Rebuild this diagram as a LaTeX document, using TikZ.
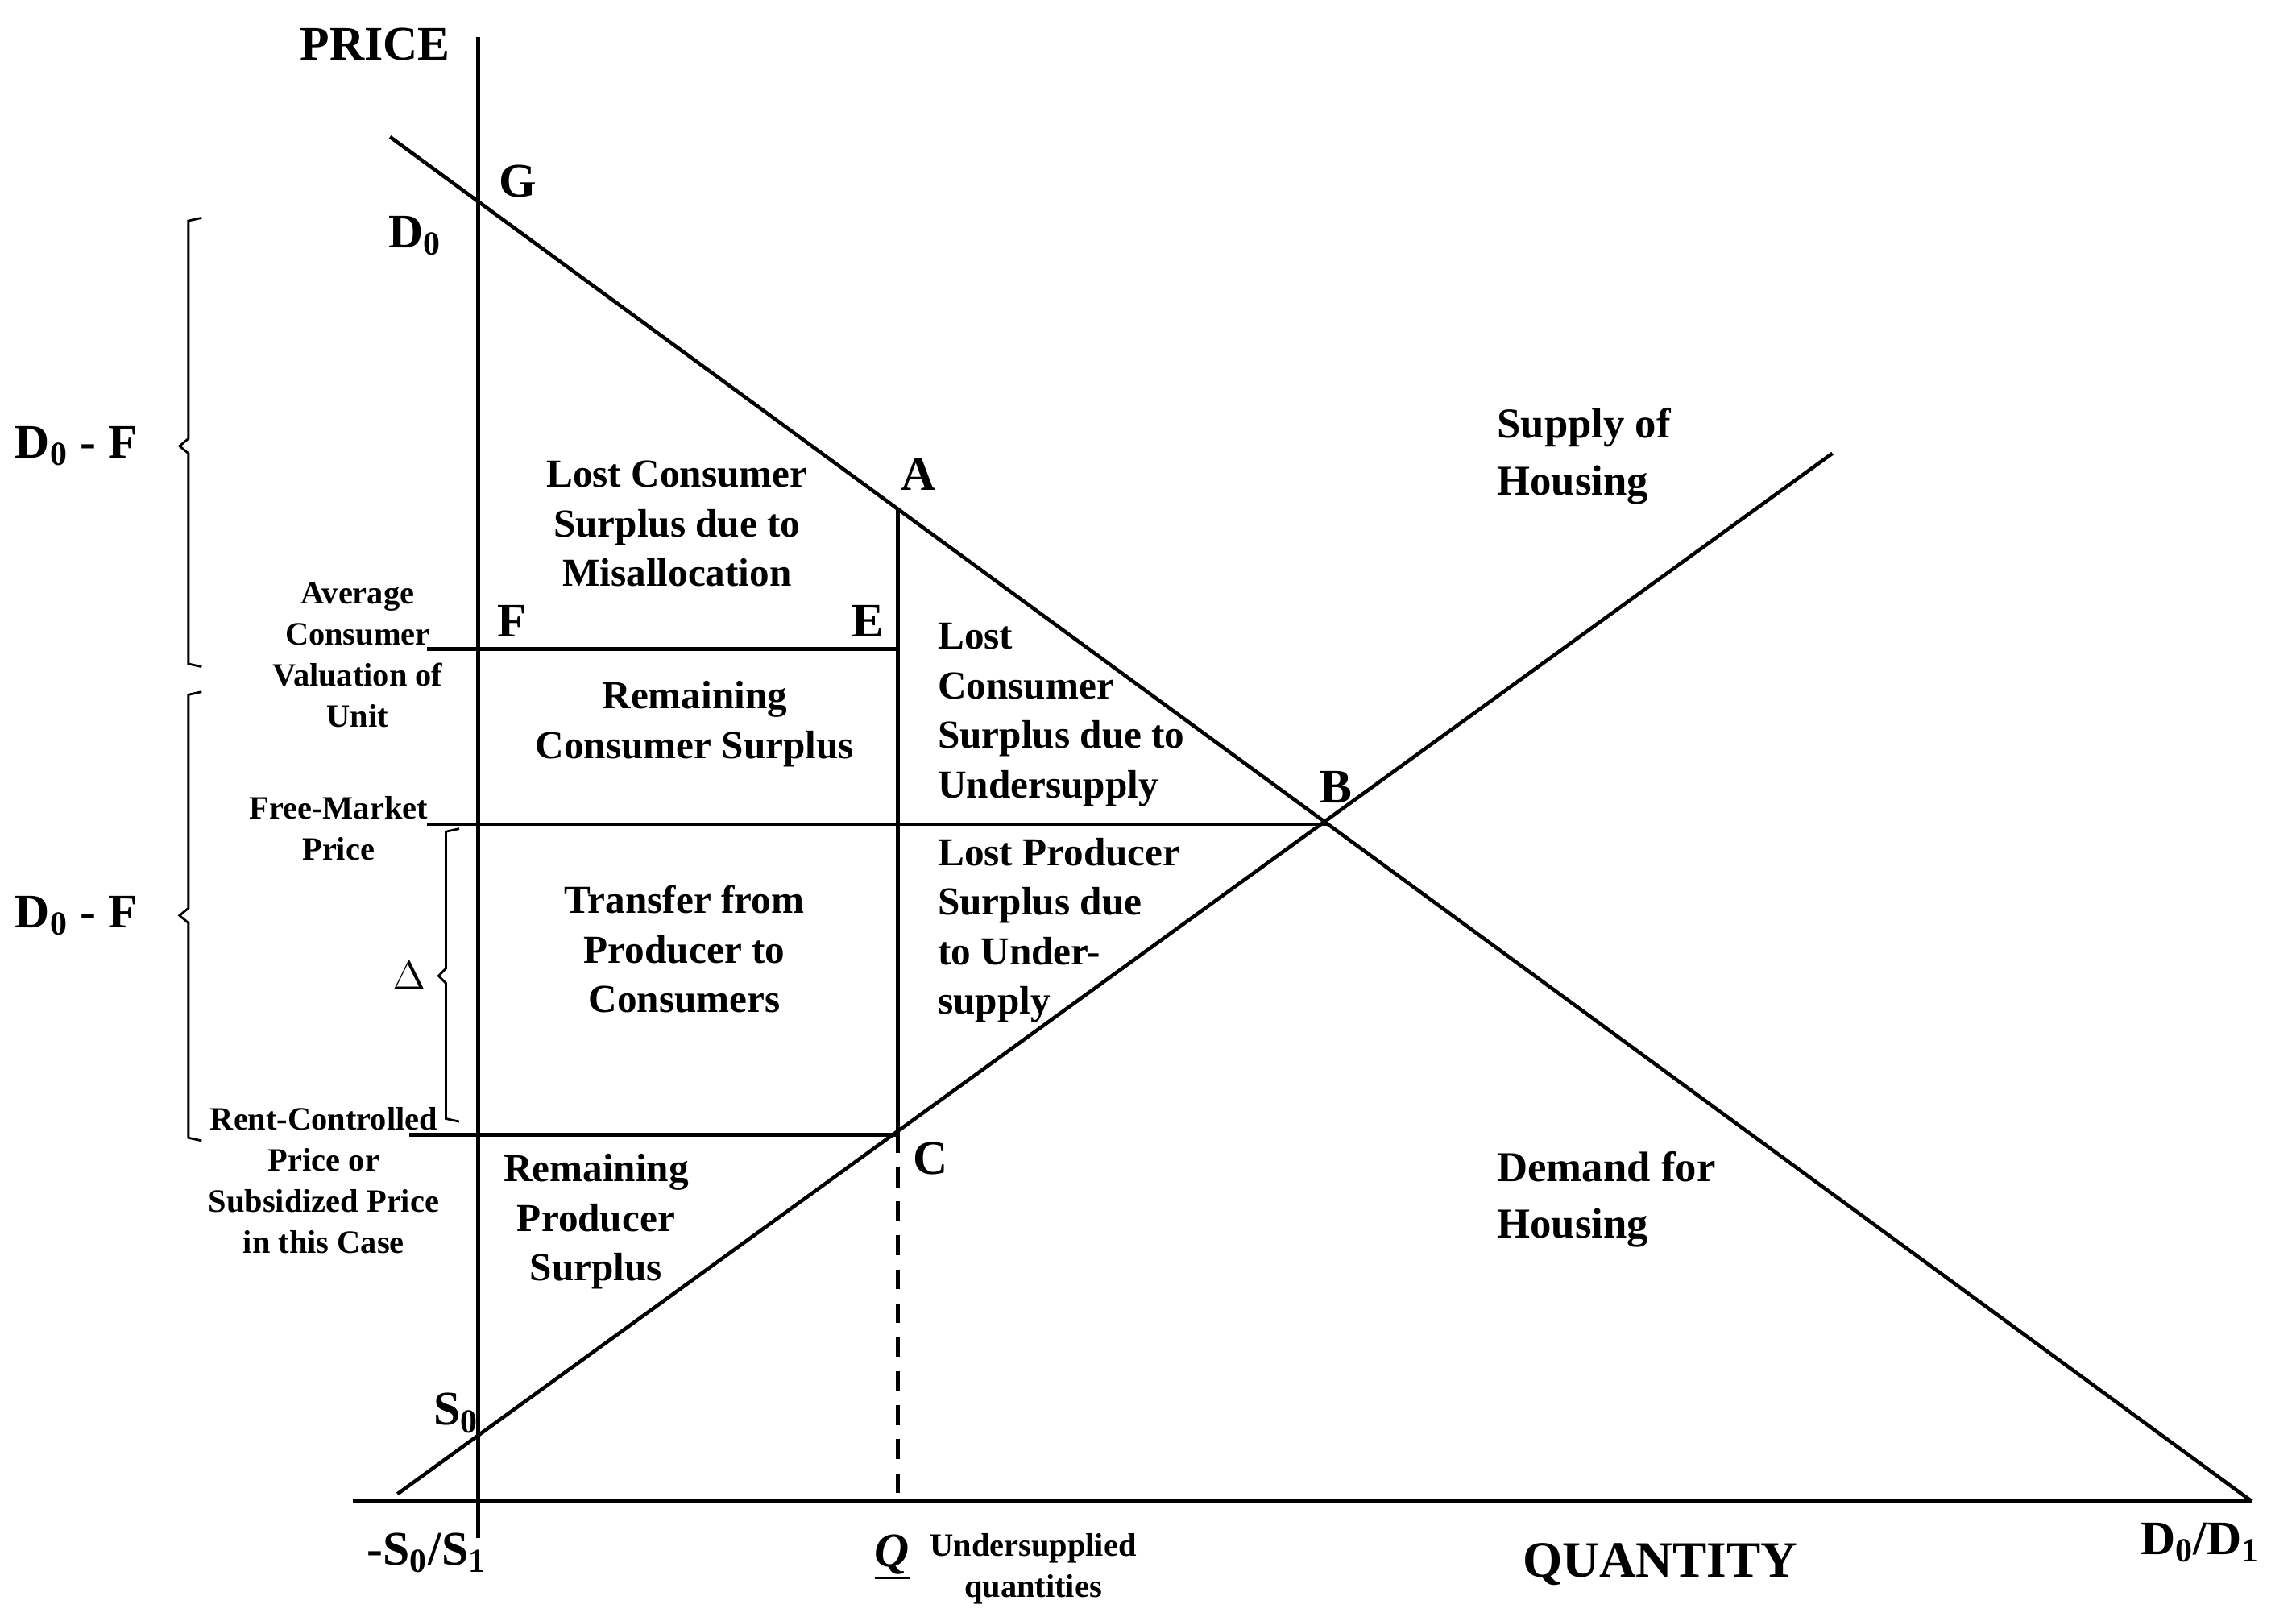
\documentclass[tikz,border=0pt]{standalone}
\usepackage{fontspec}
\setmainfont{Liberation Serif}
\begin{document}
\begin{tikzpicture}[x=0.018269cm,y=-0.018269cm,line width=1.3pt,
  big/.style={font=\fontsize{17}{20}\selectfont\bfseries,inner sep=0},
  area/.style={font=\fontsize{14}{17.5}\selectfont\bfseries,align=center,inner sep=0},
  areal/.style={font=\fontsize{14}{17.5}\selectfont\bfseries,align=left,inner sep=0},
  side/.style={font=\fontsize{11.5}{14.5}\selectfont\bfseries,align=center,inner sep=0}]
\useasboundingbox (0,0) rectangle (1560,1101);
% axes
\coordinate (ytop) at (325,25); \coordinate (ybot) at (325,1045);
\coordinate (xl) at (240,1020); \coordinate (xr) at (1530,1020);
\draw (ytop) -- (ybot); \draw (xl) -- (xr);
% curves
\coordinate (d1) at (265,93); \coordinate (d2) at (1530,1020);
\coordinate (s1) at (270,1015); \coordinate (s2) at (1245,308);
\draw (d1) -- (d2); \draw (s1) -- (s2);
\coordinate (Ap) at (610,345); \coordinate (Cp) at (610,770); \coordinate (Qp) at (610,1020);
\draw (Ap) -- (Cp); \draw[dash pattern=on 7pt off 5pt] (Cp) -- (Qp);
\coordinate (f1) at (290,441); \coordinate (f2) at (610,441);
\coordinate (m1) at (290,560); \coordinate (m2) at (903,560);
\coordinate (r1) at (278,771); \coordinate (r2) at (610,771);
\draw (f1) -- (f2); \draw (m1) -- (m2); \draw (r1) -- (r2);
% braces
\draw[line width=0.8pt] (137,148) -- (128,150) -- (128,298) -- (122,303) -- (128,308) -- (128,451) -- (137,453);
\draw[line width=0.8pt] (137,470) -- (128,472) -- (128,617) -- (122,622) -- (128,627) -- (128,773) -- (137,775);
\draw[line width=0.8pt] (312,563) -- (303,565) -- (303,658) -- (298,663) -- (303,668) -- (303,760) -- (312,762);
% labels
\node[big] (price) at (255,30) {PRICE};
\node[big] (G) at (352,123) {G};
\node[big] (D0) at (282,160) {D\textsubscript{0}};
\node[big] (A) at (624,322) {A};
\node[big] (E) at (590,422) {E};
\node[big] (F) at (348,422) {F};
\node[big] (B) at (908,535) {B};
\node[big] (C) at (632,787) {C};
\node[big] (S0) at (310,960) {S\textsubscript{0}};
\node[big] (s0s1) at (290,1055) {-S\textsubscript{0}/S\textsubscript{1}};
\node[big] (Q) at (606,1058) {\underline{\textit{Q}}};
\node[side,align=center] (under) at (702,1066) {Undersupplied\\quantities};
\node[big,font=\fontsize{18}{20}\selectfont\bfseries] (qty) at (1128,1063) {QUANTITY};
\node[big] (d0d1) at (1495,1048) {D\textsubscript{0}/D\textsubscript{1}};
\node[big,align=left,anchor=west,font=\fontsize{15}{20}\selectfont\bfseries] (supply) at (1016,310) {Supply of\\Housing};
\node[big,align=left,anchor=west,font=\fontsize{15}{20}\selectfont\bfseries] (demand) at (1016,815) {Demand for\\Housing};
\node[area] (lcsm) at (460,356) {Lost Consumer\\Surplus due to\\Misallocation};
\node[area] (rcs) at (472,492) {Remaining\\Consumer Surplus};
\node[area] (tr) at (465,645) {Transfer from\\Producer to\\Consumers};
\node[area] (rps) at (405,830) {Remaining\\Producer\\Surplus};
\node[areal,anchor=north west] (lcsu) at (636,422) {Lost\\Consumer\\Surplus due to\\Undersupply};
\node[areal,anchor=west] (lps) at (636,632) {Lost Producer\\Surplus due\\to Under-\\supply};
\node[side] (avg) at (243,445) {Average\\Consumer\\Valuation of\\Unit};
\node[side] (fm) at (230,563) {Free-Market\\Price};
\node[side] (rc) at (220,802) {Rent-Controlled\\Price or\\Subsidized Price\\in this Case};
\node[big] (df1) at (52,303) {D\textsubscript{0} - F};
\node[big] (df2) at (52,622) {D\textsubscript{0} - F};
\node[big,font=\fontsize{15}{18}\selectfont] (delta) at (278,663) {$\Delta$};
\end{tikzpicture}
\end{document}
